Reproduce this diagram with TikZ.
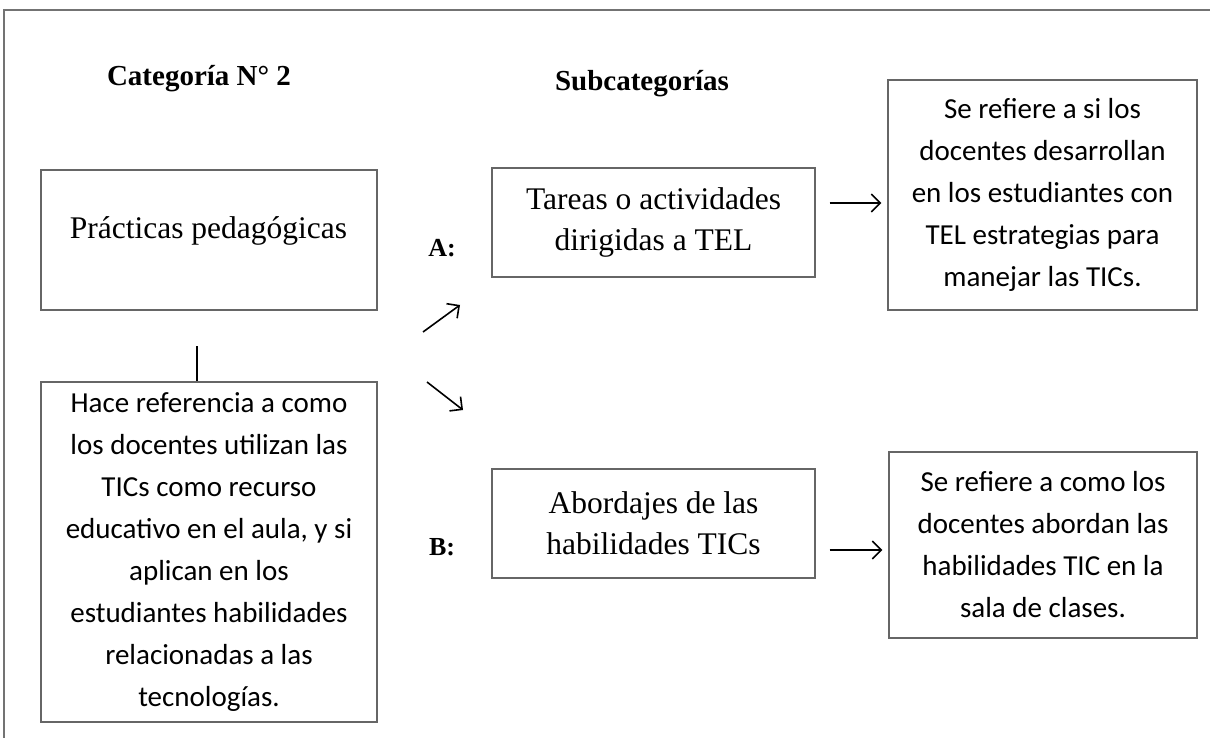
\documentclass[tikz,border=0pt]{standalone}
\usepackage{fontspec}
\setmainfont{Liberation Serif}
\newfontfamily\calib{Carlito}
\usetikzlibrary{arrows.meta}
\begin{document}
\begin{tikzpicture}[x=1pt,y=-1pt,
  box/.style={draw=black!60, line width=1.1pt, inner sep=0pt, align=center},
  serifbox/.style={box, font=\fontsize{31.5}{41}\selectfont},
  sansbox/.style={box, font=\calib\fontsize{29}{42}\selectfont},
  head/.style={font=\bfseries\fontsize{29}{34}\selectfont, anchor=base, inner sep=0pt},
  lbl/.style={font=\bfseries\fontsize{26}{30}\selectfont, anchor=base, inner sep=0pt},
  arr/.style={line width=1.6pt, -{Straight Barb[length=9pt,width=18pt]}},
  frame/.style={draw=black!55, line width=1.4pt},
]
\useasboundingbox (0,0) rectangle (1210,738);
% outer frame (top and left)
\draw[frame] (4,738) -- (4,10) -- (1210,10);

% headings
\node[head] (h1) at (199,86) {Categoría N° 2};
\node[head] (h2) at (642,91) {Subcategorías};

% left column
\node[box, minimum width=336pt, minimum height=140pt] (pbox) at (209,240) {};
\node[font=\fontsize{31.5}{41}\selectfont, anchor=base, inner sep=0pt] (ptext) at (208.5,238) {Prácticas pedagógicas};
\node[sansbox, minimum width=336pt, minimum height=340pt] (hbox) at (209,552)
  {Hace referencia a como\\los docentes utilizan las\\TICs como recurso\\educativo en el aula, y si\\aplican en los\\estudiantes habilidades\\relacionadas a las\\tecnologías.};
\coordinate (ltop) at (197,346);
\draw[line width=1.6pt] (ltop) -- (ltop |- hbox.north);

% labels
\node[lbl] (la) at (442,256) {A:};
\node[lbl] (lb) at (442,555) {B:};

% diagonal arrows
\coordinate (d1s) at (423,332);
\coordinate (d1e) at (460,305);
\coordinate (d2s) at (427,382);
\coordinate (d2e) at (463,410);
\draw[arr] (d1s) -- (d1e);
\draw[arr] (d2s) -- (d2e);

% subcategory boxes
\node[serifbox, minimum width=323pt, minimum height=109pt] (tbox) at (653.5,222.5)
  {Tareas o actividades\\dirigidas a TEL};
\node[serifbox, minimum width=323pt, minimum height=109pt] (abox) at (653.5,523.5)
  {Abordajes de las\\habilidades TICs};

% description boxes
\node[sansbox, minimum width=309pt, minimum height=230pt] (r1) at (1042.5,195)
  {Se refiere a si los\\docentes desarrollan\\en los estudiantes con\\TEL estrategias para\\manejar las TICs.};
\node[sansbox, minimum width=308pt, minimum height=186pt] (r2) at (1043,545)
  {Se refiere a como los\\docentes abordan las\\habilidades TIC en la\\sala de clases.};

% horizontal arrows
\coordinate (a1) at (0,203);
\coordinate (a2) at (0,550);
\draw[arr, shorten <=14pt, shorten >=6pt] (a1 -| tbox.east) -- (a1 -| r1.west);
\draw[arr, shorten <=14pt, shorten >=6pt] (a2 -| abox.east) -- (a2 -| r2.west);
\end{tikzpicture}
\end{document}
